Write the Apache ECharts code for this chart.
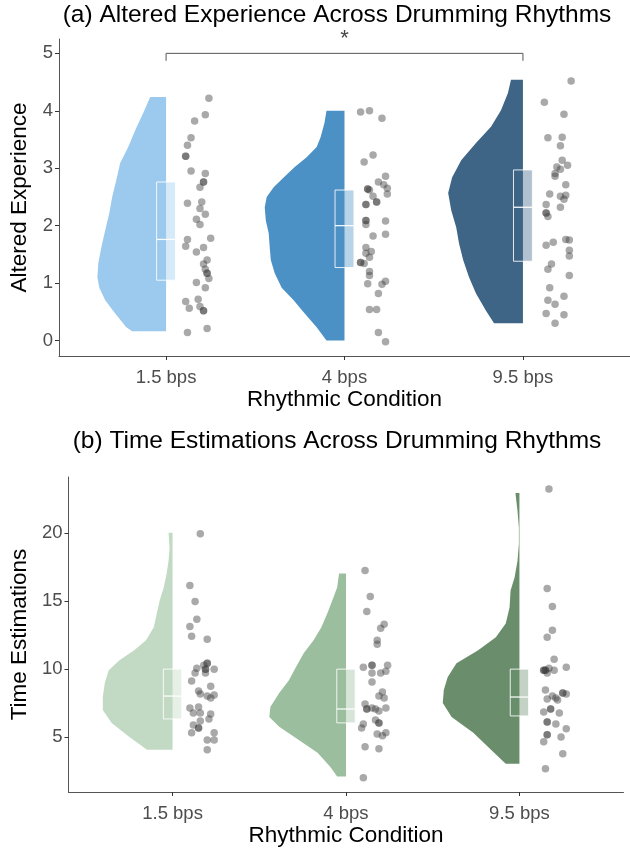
<!DOCTYPE html>
<html>
<head>
<meta charset="utf-8">
<script src="https://cdn.jsdelivr.net/npm/echarts@6/dist/echarts.min.js"></script>
<style>
  html, body { margin: 0; padding: 0; background: #fff; }
  #chart { width: 630px; height: 853px; }
</style>
</head>
<body>
<div id="chart"></div>
<script>
// categories and tick labels
var categories = ['1.5 bps', '4 bps', '9.5 bps'];
var aTicks = [0, 1, 2, 3, 4, 5];
var bTicks = [5, 10, 15, 20];

// fill colours per condition
var aColors = ['#9ccaee', '#4b91c6', '#3e6586'];
var bColors = ['#c2dac4', '#9bbf9e', '#6a8e6c'];

// half-violin outlines: y values (top -> bottom) and half width (category units)
var aViolinY = [
    [4.24, 3.96, 3.66, 3.37, 3.09, 2.79, 2.50, 2.22, 1.92, 1.62, 1.34, 1.10, 0.92, 0.70, 0.47, 0.23, 0.16],
    [4.0, 3.79, 3.54, 3.37, 3.19, 3.02, 2.84, 2.67, 2.50, 2.32, 2.09, 1.87, 1.62, 1.40, 1.17, 0.92, 0.70, 0.47, 0.23, 0.0],
    [4.54, 4.31, 4.01, 3.72, 3.44, 3.14, 2.84, 2.57, 2.27, 1.97, 1.69, 1.40, 1.10, 0.82, 0.52, 0.30]
];
var aViolinW = [
    [0.089, 0.128, 0.173, 0.212, 0.257, 0.279, 0.302, 0.318, 0.341, 0.363, 0.380, 0.385, 0.374, 0.341, 0.285, 0.223, 0.190],
    [0.101, 0.112, 0.134, 0.156, 0.212, 0.279, 0.341, 0.397, 0.436, 0.447, 0.441, 0.425, 0.419, 0.413, 0.391, 0.352, 0.285, 0.223, 0.156, 0.101],
    [0.067, 0.084, 0.123, 0.179, 0.263, 0.346, 0.397, 0.419, 0.402, 0.374, 0.358, 0.335, 0.302, 0.263, 0.207, 0.162]
];
var bViolinY = [
    [20, 18.9, 17.95, 17.0, 15.98, 15.03, 14.07, 13.05, 12.1, 11.37, 10.64, 9.9, 8.95, 7.93, 6.98, 6.03, 5.0, 4.05],
    [17.0, 15.98, 15.03, 14.07, 13.05, 12.1, 11.15, 10.12, 9.17, 8.22, 7.2, 6.47, 5.74, 4.78, 3.83, 2.81, 2.08],
    [22.93, 21.61, 20.37, 19.2, 17.95, 16.71, 15.76, 14.51, 13.34, 12.32, 11.37, 10.42, 9.39, 8.44, 7.49, 6.47, 5.30, 4.05, 3.03]
];
var bViolinW = [
    [0.023, 0.017, 0.023, 0.034, 0.051, 0.074, 0.091, 0.108, 0.153, 0.221, 0.306, 0.368, 0.391, 0.402, 0.402, 0.351, 0.249, 0.147],
    [0.040, 0.051, 0.079, 0.108, 0.142, 0.187, 0.244, 0.289, 0.329, 0.385, 0.436, 0.442, 0.385, 0.272, 0.164, 0.091, 0.051],
    [0.023, 0.011, 0.003, 0.003, 0.011, 0.028, 0.051, 0.057, 0.079, 0.136, 0.238, 0.363, 0.414, 0.436, 0.442, 0.391, 0.266, 0.164, 0.079]
];

// boxes: [q1, median, q3]
var aBox = [[1.05, 1.76, 2.76], [1.27, 2.00, 2.62], [1.38, 2.32, 2.97]];
var bBox = [[6.32, 8.00, 9.98], [6.03, 7.05, 9.98], [6.54, 7.93, 9.98]];

// raw observations (altered experience)
var aVals = [
    [4.22, 3.93, 3.82, 3.53, 3.40, 3.21, 3.21, 2.95, 2.91, 2.76, 2.76, 2.67, 2.39, 2.41, 2.30, 2.20, 2.11, 2.02, 1.76, 1.78, 1.64, 1.62, 1.54, 1.40, 1.33, 1.24, 1.17, 1.17, 1.08, 1.01, 0.92, 0.68, 0.72, 0.56, 0.59, 0.52, 0.52, 0.21, 0.14],
    [3.98, 4.00, 3.87, 3.23, 3.11, 2.86, 2.76, 2.71, 2.65, 2.64, 2.64, 2.62, 2.55, 2.51, 2.41, 2.41, 2.37, 2.37, 2.08, 2.09, 2.09, 2.02, 1.85, 1.82, 1.62, 1.55, 1.52, 1.45, 1.36, 1.36, 1.34, 1.20, 1.13, 0.99, 1.03, 0.98, 0.82, 0.54, 0.54, 0.14, -0.02],
    [4.52, 4.15, 3.94, 3.53, 3.54, 3.39, 3.14, 3.02, 2.98, 3.05, 2.91, 2.86, 2.71, 2.55, 2.51, 2.53, 2.46, 2.37, 2.32, 2.22, 2.22, 2.16, 1.76, 1.75, 1.66, 1.71, 1.57, 1.47, 1.33, 1.24, 1.13, 0.92, 0.77, 0.70, 0.63, 0.47, 0.45, 0.30]
];
// horizontal jitter of each point, right of the category centre
var aJit = [
    [0.24, 0.22, 0.16, 0.14, 0.12, 0.11, 0.11, 0.14, 0.22, 0.21, 0.21, 0.19, 0.12, 0.20, 0.19, 0.22, 0.17, 0.19, 0.12, 0.25, 0.11, 0.21, 0.17, 0.23, 0.21, 0.22, 0.23, 0.23, 0.24, 0.17, 0.22, 0.11, 0.18, 0.13, 0.19, 0.21, 0.21, 0.23, 0.12],
    [0.09, 0.14, 0.21, 0.16, 0.11, 0.23, 0.19, 0.22, 0.24, 0.13, 0.13, 0.14, 0.24, 0.16, 0.18, 0.18, 0.12, 0.12, 0.23, 0.12, 0.12, 0.12, 0.23, 0.16, 0.12, 0.15, 0.12, 0.14, 0.09, 0.09, 0.11, 0.14, 0.14, 0.13, 0.23, 0.21, 0.19, 0.14, 0.18, 0.19, 0.23],
    [0.27, 0.12, 0.23, 0.14, 0.22, 0.21, 0.22, 0.19, 0.21, 0.25, 0.18, 0.18, 0.24, 0.15, 0.21, 0.24, 0.23, 0.13, 0.21, 0.13, 0.13, 0.14, 0.24, 0.26, 0.13, 0.17, 0.26, 0.26, 0.16, 0.14, 0.26, 0.15, 0.23, 0.14, 0.18, 0.13, 0.23, 0.18]
];

// raw observations (time estimations)
var bVals = [
    [19.93, 16.12, 14.95, 13.64, 13.12, 12.39, 12.17, 10.42, 10.42, 10.27, 10.05, 9.98, 9.98, 9.98, 9.69, 9.69, 9.10, 8.73, 8.37, 8.15, 8.08, 8.00, 7.86, 7.13, 7.20, 6.76, 6.76, 6.69, 6.32, 6.17, 5.88, 5.66, 5.66, 5.30, 5.30, 4.78, 4.78, 4.05],
    [17.22, 15.32, 14.22, 13.27, 12.98, 12.10, 11.81, 10.12, 10.27, 10.27, 10.27, 9.69, 9.69, 9.83, 9.03, 8.30, 8.00, 7.86, 7.42, 7.05, 7.05, 7.13, 7.05, 6.91, 7.13, 6.25, 6.03, 6.03, 5.95, 5.66, 5.22, 5.08, 5.30, 4.27, 4.13, 2.0],
    [23.22, 15.90, 14.59, 12.83, 12.32, 10.71, 10.12, 9.90, 9.90, 9.90, 9.90, 10.05, 9.90, 9.69, 8.44, 8.22, 8.22, 8.15, 8.00, 7.78, 7.86, 7.71, 7.05, 7.05, 6.83, 6.76, 6.10, 6.10, 5.95, 5.59, 5.15, 5.15, 5.00, 4.64, 3.76, 2.66]
];
var bJit = [
    [0.16, 0.10, 0.13, 0.14, 0.10, 0.11, 0.20, 0.20, 0.20, 0.18, 0.14, 0.19, 0.19, 0.24, 0.13, 0.19, 0.11, 0.22, 0.15, 0.16, 0.24, 0.20, 0.22, 0.10, 0.15, 0.12, 0.16, 0.22, 0.21, 0.16, 0.12, 0.15, 0.15, 0.11, 0.24, 0.20, 0.24, 0.20],
    [0.11, 0.14, 0.12, 0.22, 0.20, 0.18, 0.18, 0.10, 0.15, 0.15, 0.24, 0.15, 0.20, 0.23, 0.15, 0.21, 0.19, 0.22, 0.11, 0.12, 0.12, 0.15, 0.17, 0.19, 0.23, 0.17, 0.19, 0.19, 0.10, 0.09, 0.18, 0.21, 0.23, 0.11, 0.19, 0.10],
    [0.17, 0.16, 0.19, 0.19, 0.16, 0.20, 0.27, 0.14, 0.14, 0.15, 0.15, 0.17, 0.20, 0.16, 0.15, 0.25, 0.25, 0.27, 0.19, 0.16, 0.21, 0.22, 0.18, 0.18, 0.14, 0.23, 0.16, 0.16, 0.21, 0.27, 0.16, 0.16, 0.24, 0.14, 0.25, 0.15]
];

// significance bracket between 1.5 bps and 9.5 bps
var bracketFrom = 1, bracketTo = 3, bracketY = 5.0, bracketLeg = 4.87, bracketLabel = '*';

var FONT = '"Liberation Sans", Arial, sans-serif';
var BOX_HALF = 0.053;

function violinSeries(gridIdx, ys, ws, colors) {
    return {
        type: 'custom',
        xAxisIndex: gridIdx, yAxisIndex: gridIdx,
        z: 1,
        data: [[0], [1], [2]],
        renderItem: function(params, api) {
            var i = api.value(0);
            var c = i + 1;
            var y = ys[i], w = ws[i];
            var pts = [];
            for (var k = 0; k < y.length; k++) {
                pts.push(api.coord([c - w[k], y[k]]));
            }
            pts.push(api.coord([c, y[y.length - 1]]));
            pts.push(api.coord([c, y[0]]));
            return {
                type: 'polygon',
                shape: { points: pts },
                style: { fill: colors[i], stroke: null }
            };
        }
    };
}

function boxSeries(gridIdx, boxes, colors) {
    return {
        type: 'custom',
        xAxisIndex: gridIdx, yAxisIndex: gridIdx,
        z: 2,
        data: [[0], [1], [2]],
        renderItem: function(params, api) {
            var i = api.value(0);
            var c = i + 1;
            var b = boxes[i];
            var tl = api.coord([c - BOX_HALF, b[2]]);
            var br = api.coord([c + BOX_HALF, b[0]]);
            var m1 = api.coord([c - BOX_HALF, b[1]]);
            var m2 = api.coord([c + BOX_HALF, b[1]]);
            return {
                type: 'group',
                children: [{
                    type: 'rect',
                    shape: { x: tl[0], y: tl[1], width: br[0] - tl[0], height: br[1] - tl[1] },
                    style: { fill: colors[i], opacity: 0.4, stroke: null }
                }, {
                    type: 'rect',
                    shape: { x: tl[0], y: tl[1], width: br[0] - tl[0], height: br[1] - tl[1] },
                    style: { fill: null, stroke: 'rgba(255,255,255,0.85)', lineWidth: 1 }
                }, {
                    type: 'line',
                    shape: { x1: m1[0], y1: m1[1], x2: m2[0], y2: m2[1] },
                    style: { stroke: 'rgba(255,255,255,0.95)', lineWidth: 1.3 }
                }]
            };
        }
    };
}

function pointSeries(gridIdx, vals, jit) {
    var data = [];
    for (var i = 0; i < vals.length; i++) {
        for (var k = 0; k < vals[i].length; k++) {
            data.push([i + 1 + jit[i][k], vals[i][k]]);
        }
    }
    return {
        type: 'scatter',
        xAxisIndex: gridIdx, yAxisIndex: gridIdx,
        z: 3,
        symbolSize: 7.5,
        itemStyle: { color: 'rgba(60,60,60,0.55)' },
        silent: true,
        data: data
    };
}

function xAxisFor(gridIdx) {
    return {
        type: 'value', gridIndex: gridIdx,
        min: 0.4, max: 3.6,
        splitLine: { show: false },
        axisLine: { onZero: false, lineStyle: { color: '#555', width: 1 } },
        axisTick: { customValues: [1, 2, 3], length: 4, lineStyle: { color: '#333' } },
        axisLabel: {
            customValues: [1, 2, 3],
            formatter: function(v) { return categories[Math.round(v) - 1]; },
            fontSize: 18.5, color: '#4d4d4d', margin: 12, fontFamily: FONT
        },
        name: 'Rhythmic Condition', nameLocation: 'middle', nameGap: 31,
        nameTextStyle: { fontSize: 22.5, color: '#000', fontFamily: FONT }
    };
}

function yAxisFor(gridIdx, min, max, ticks, name, gap) {
    return {
        type: 'value', gridIndex: gridIdx,
        min: min, max: max,
        splitLine: { show: false },
        axisLine: { show: true, lineStyle: { color: '#555', width: 1 } },
        axisTick: { show: true, customValues: ticks, length: 4, lineStyle: { color: '#333' } },
        axisLabel: { customValues: ticks, fontSize: 18.5, color: '#4d4d4d', margin: 6, fontFamily: FONT },
        name: name, nameLocation: 'middle', nameGap: gap,
        nameTextStyle: { fontSize: 22.5, color: '#000', fontFamily: FONT }
    };
}

var chart = echarts.init(document.getElementById('chart'));

var option = {
    animation: false,
    backgroundColor: '#fff',
    textStyle: { fontFamily: FONT },
    graphic: [{
        type: 'text', x: 337, y: 15,
        style: { text: '(a) Altered Experience Across Drumming Rhythms', font: '24.5px ' + FONT, fill: '#000', textAlign: 'center', textVerticalAlign: 'middle', align: 'center', verticalAlign: 'middle' }
    }, {
        type: 'text', x: 337, y: 441,
        style: { text: '(b) Time Estimations Across Drumming Rhythms', font: '24.5px ' + FONT, fill: '#000', textAlign: 'center', textVerticalAlign: 'middle', align: 'center', verticalAlign: 'middle' }
    }],
    grid: [
        { left: 57, top: 39, width: 573, height: 317 },
        { left: 58.5, top: 477, width: 565, height: 315 }
    ],
    xAxis: [xAxisFor(0), xAxisFor(1)],
    yAxis: [
        yAxisFor(0, -0.27, 5.25, aTicks, 'Altered Experience', 28),
        yAxisFor(1, 0.95, 24.1, bTicks, 'Time Estimations', 33)
    ],
    series: [
        violinSeries(0, aViolinY, aViolinW, aColors),
        boxSeries(0, aBox, aColors),
        pointSeries(0, aVals, aJit),
        violinSeries(1, bViolinY, bViolinW, bColors),
        boxSeries(1, bBox, bColors),
        pointSeries(1, bVals, bJit),
        {
            // significance bracket
            type: 'custom',
            xAxisIndex: 0, yAxisIndex: 0,
            z: 4,
            data: [[0]],
            renderItem: function(params, api) {
                var p1 = api.coord([bracketFrom, bracketLeg]);
                var p2 = api.coord([bracketFrom, bracketY]);
                var p3 = api.coord([bracketTo, bracketY]);
                var p4 = api.coord([bracketTo, bracketLeg]);
                var mid = api.coord([(bracketFrom + bracketTo) / 2, bracketY]);
                return {
                    type: 'group',
                    children: [{
                        type: 'polyline',
                        shape: { points: [p1, p2, p3, p4] },
                        style: { stroke: '#555', lineWidth: 1, fill: null }
                    }, {
                        type: 'text',
                        x: mid[0], y: mid[1] - 3,
                        style: { text: bracketLabel, font: '22px ' + FONT, fill: '#444', align: 'center', verticalAlign: 'bottom', textAlign: 'center', textVerticalAlign: 'bottom' }
                    }]
                };
            }
        }
    ]
};

chart.setOption(option);
</script>
</body>
</html>
